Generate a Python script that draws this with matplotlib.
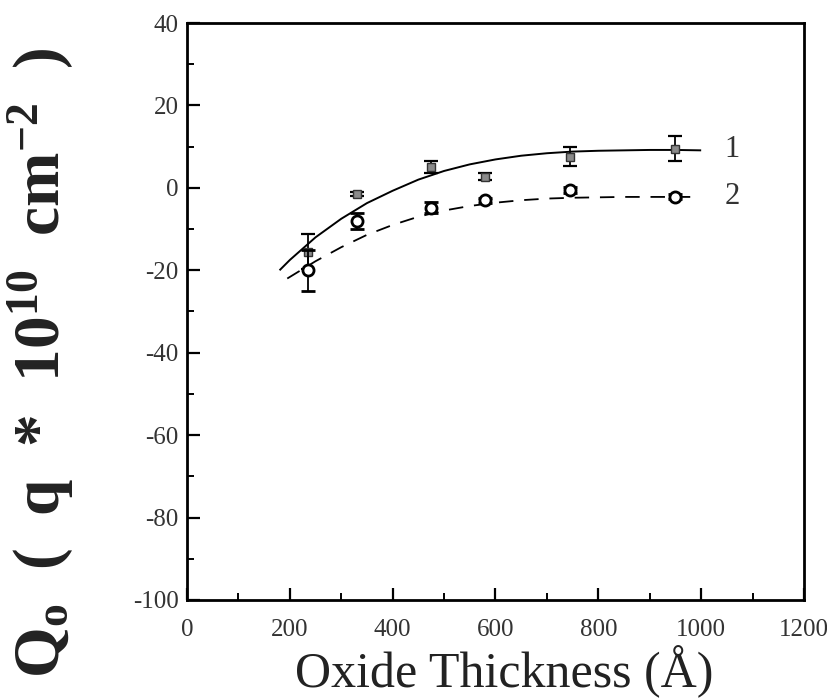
import matplotlib
matplotlib.use("Agg")
import matplotlib.pyplot as plt
from matplotlib.ticker import MultipleLocator

# ---- data ----
x_pts = [235, 330, 475, 580, 745, 950]
s1_y = [-15.5, -1.5, 5.0, 2.7, 7.5, 9.5]
s1_err = [4.3, 0.5, 1.4, 0.9, 2.3, 3.0]
s2_y = [-20.0, -8.0, -4.8, -3.0, -0.5, -2.2]
s2_err = [5.0, 1.9, 1.3, 0.6, 0.8, 0.6]

fit1_x = [180, 200, 250, 300, 350, 400, 450, 500, 550, 600, 650, 700, 750, 800, 850, 900, 950, 1000]
fit1_y = [-20.0, -17.5, -12.0, -7.5, -3.7, -0.7, 2.0, 4.1, 5.7, 6.9, 7.8, 8.4, 8.8, 9.0, 9.1, 9.2, 9.2, 9.1]
fit2_x = [195, 250, 300, 350, 400, 450, 500, 550, 600, 650, 700, 750, 800, 850, 900, 950, 990]
fit2_y = [-22.0, -17.8, -14.4, -11.4, -9.0, -7.0, -5.5, -4.4, -3.6, -3.0, -2.6, -2.4, -2.3, -2.2, -2.2, -2.2, -2.2]

curve_labels = ["1", "2"]
label_x = [1045, 1045]
label_y = [9.2, -2.2]

x_ticks = [0, 200, 400, 600, 800, 1000, 1200]
y_ticks = [-100, -80, -60, -40, -20, 0, 20, 40]

serif = ["Liberation Serif", "DejaVu Serif"]
plt.rcParams["font.family"] = serif
plt.rcParams["axes.unicode_minus"] = False
plt.rcParams["mathtext.fontset"] = "custom"
plt.rcParams["mathtext.rm"] = "Liberation Serif:bold"
plt.rcParams["mathtext.it"] = "Liberation Serif:bold"
plt.rcParams["mathtext.bf"] = "Liberation Serif:bold"

fig = plt.figure(figsize=(8.28, 7.0), dpi=100)
ax = fig.add_axes([187/828, 1-600/700, (804-187)/828, (600-23)/700])

ax.plot(fit1_x, fit1_y, color="black", lw=1.4, solid_capstyle="butt")
ax.plot(fit2_x, fit2_y, color="black", lw=1.3, dashes=(8, 6))

ax.errorbar(x_pts, s1_y, yerr=s1_err, fmt="s", ms=6, mfc="#8a8a8a", mec="#333333",
            ecolor="black", elinewidth=1.3, capsize=5, capthick=1.6, zorder=3)
ax.errorbar(x_pts, s2_y, yerr=s2_err, fmt="o", ms=8, mfc="white", mec="black", mew=2.0,
            ecolor="black", elinewidth=1.3, capsize=5, capthick=1.6, zorder=4)

for t, xx, yy in zip(curve_labels, label_x, label_y):
    ax.text(xx, yy, t, fontsize=22, va="center", ha="left", color="#333333")

ax.set_xlim(0, 1200)
ax.set_ylim(-100, 40)
ax.set_xticks(x_ticks)
ax.set_yticks(y_ticks)
ax.xaxis.set_minor_locator(MultipleLocator(100))
ax.yaxis.set_minor_locator(MultipleLocator(10))
ax.tick_params(axis="both", which="major", direction="in", length=9, width=1.6,
               labelsize=18, top=False, right=False, pad=14, colors="black",
               labelcolor="#333333")
ax.tick_params(axis="both", which="minor", direction="in", length=5, width=1.4,
               top=False, right=False)
ax.tick_params(axis="y", which="major", pad=6)
for sp in ax.spines.values():
    sp.set_linewidth(2.0)

ax.set_xlabel("Oxide Thickness (Å)", fontsize=36, color="#222222")
ax.xaxis.set_label_coords(0.514, -0.078)
ax.set_ylabel(r"Q$_\mathrm{o}$  (  q  *  10$^{10}$  cm$^{-2}$  )", fontsize=47,
              fontweight="bold", color="#222222")
ax.yaxis.set_label_coords(-0.18, 0.41)

fig.savefig("out.png", dpi=100)
